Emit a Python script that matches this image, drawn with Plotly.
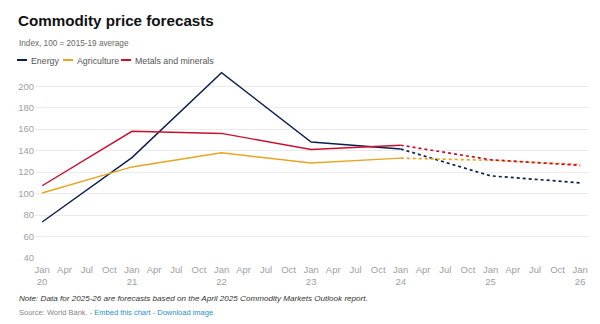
import plotly.graph_objects as go

# Annual index values (100 = 2015-19 average); 2025-26 are forecasts
years = [2020, 2021, 2022, 2023, 2024, 2025, 2026]
energy = [73.5, 133.5, 212.5, 148, 141.5, 116.5, 110]
agriculture = [100.5, 124.8, 138, 128.5, 133, 131, 127]
metals = [107.3, 158, 156, 141, 145, 131.5, 126.3]

series_names = ["Energy", "Agriculture", "Metals and minerals"]
series_colors = ["#0b1f4b", "#e8a521", "#c8102e"]
last_actual = 2024

y_ticks = [40, 60, 80, 100, 120, 140, 160, 180, 200]
month_labels = ["Jan", "Apr", "Jul", "Oct"]

FONT = "Arial, 'Liberation Sans', sans-serif"

fig = go.Figure()

for name, color, vals in zip(series_names, series_colors, [energy, agriculture, metals]):
    dates = [f"{y}-01-01" for y in years]
    k = years.index(last_actual)
    fig.add_trace(go.Scatter(
        x=dates[:k + 1], y=vals[:k + 1], mode="lines", name=name,
        line=dict(color=color, width=1.4), showlegend=False,
        hoverinfo="skip"))
    fig.add_trace(go.Scatter(
        x=dates[k:], y=vals[k:], mode="lines", name=name + " (forecast)",
        line=dict(color=color, width=1.7, dash="dot"), showlegend=False,
        hoverinfo="skip"))

# Quarterly ticks with two-digit year under each January
tick_vals, tick_text = [], []
for y in range(years[0], years[-1] + 1):
    for i, m in enumerate(month_labels):
        if y == years[-1] and i > 0:
            break
        tick_vals.append(f"{y}-{1 + 3 * i:02d}-01")
        tick_text.append(f"{m}<br>{str(y)[2:]}" if m == "Jan" else m)

fig.update_xaxes(
    type="date", range=["2019-12-03", "2026-02-02"],
    tickmode="array", tickvals=tick_vals, ticktext=tick_text,
    tickfont=dict(family=FONT, size=9.5, color="#a0a0a0"),
    ticklabelstandoff=4,
    showgrid=False, zeroline=False, showline=False, ticks="",
)
fig.update_yaxes(
    range=[40, 216], tickmode="array", tickvals=y_ticks,
    tickfont=dict(family=FONT, size=9.5, color="#a0a0a0"),
    showgrid=True, gridcolor="#ececec", gridwidth=1,
    zeroline=False, showline=False, ticks="", ticksuffix="  ",
)

W, H = 600, 324
ML, MR, MT, MB = 35, 12, 69, 66
pw, ph = W - ML - MR, H - MT - MB


def px_x(x):
    return (x - ML) / pw


def px_y(y):
    return 1 - (y - MT) / ph


annotations = [
    dict(text="<b>Commodity price forecasts</b>", x=16, y=10, font=dict(size=15.2, color="#111111")),
    dict(text="Index, 100 = 2015-19 average", x=17, y=37, font=dict(size=8.2, color="#666666")),
    dict(text="<i>Note: Data for 2025-26 are forecasts based on the April 2025 Commodity Markets Outlook report.</i>",
         x=17, y=292, font=dict(size=8.1, color="#333333")),
    dict(text="Source: World Bank. - <span style='color:#1f8fc8'>Embed this chart</span>"
              " - <span style='color:#1f8fc8'>Download image</span>",
         x=17, y=306, font=dict(size=7.5, color="#888888")),
]

# Legend row: short coloured swatch followed by the series name
shapes = []
legend_x = [17, 63, 121]
for lx, name, color in zip(legend_x, series_names, series_colors):
    shapes.append(dict(type="line", xref="paper", yref="paper",
                       x0=px_x(lx), x1=px_x(lx + 10), y0=px_y(60), y1=px_y(60),
                       line=dict(color=color, width=2)))
    annotations.append(dict(text=name, x=lx + 12, y=54,
                            font=dict(size=8.8, color="#555555")))

anns = []
for a in annotations:
    a.update(xref="paper", yref="paper", xanchor="left", yanchor="top", showarrow=False)
    a["font"]["family"] = FONT
    a["x"] = px_x(a["x"])
    a["y"] = px_y(a["y"])
    anns.append(a)

fig.update_layout(
    width=W, height=H,
    margin=dict(l=ML, r=MR, t=MT, b=MB),
    paper_bgcolor="white", plot_bgcolor="white",
    annotations=anns, shapes=shapes, showlegend=False,
    font=dict(family=FONT),
)

fig.write_html("out.html")
